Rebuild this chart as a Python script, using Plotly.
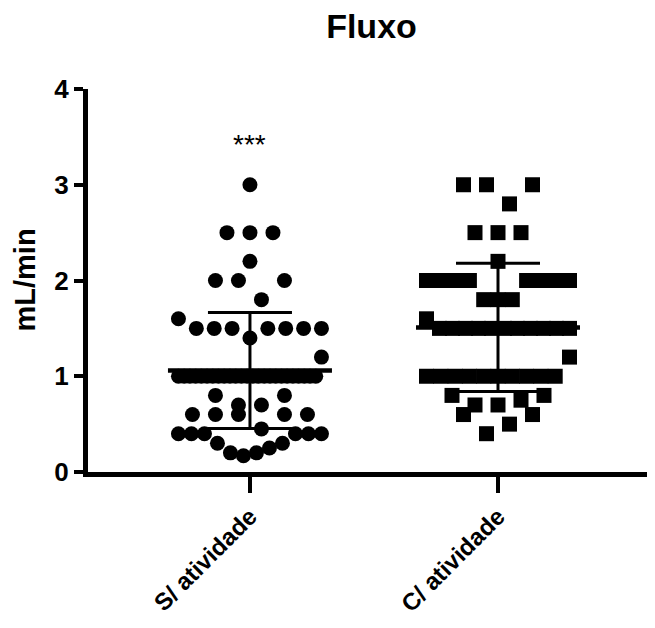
import plotly.graph_objects as go

categories = ["S/ atividade", "C/ atividade"]

s_atividade = [
    0.17, 0.2, 0.2, 0.25, 0.3, 0.3,
    0.4, 0.4, 0.4, 0.4, 0.4, 0.4,
    0.6, 0.45, 0.6, 0.6, 0.6, 0.6,
    0.7, 0.7, 0.8, 0.8,
    1.0, 1.0, 1.0, 1.0, 1.0, 1.0, 1.0, 1.0, 1.0, 1.0,
    1.0, 1.0, 1.0, 1.0, 1.0, 1.0, 1.0, 1.0, 1.0, 1.0,
    1.0, 1.0, 1.0, 1.0, 1.0,
    1.2,
    1.4, 1.5, 1.5, 1.5, 1.5, 1.5, 1.5, 1.6, 1.5,
    2.0, 1.8, 2.0, 2.0,
    2.2,
    2.5, 2.5, 2.5,
    3.0,
]

c_atividade = [
    0.4, 0.5, 0.6, 0.6,
    0.7, 0.7, 0.75, 0.8, 0.8,
    1.0, 1.0, 1.0, 1.0, 1.0, 1.0, 1.0, 1.0, 1.0, 1.0,
    1.2,
    1.5, 1.5, 1.5, 1.5, 1.5, 1.5, 1.5, 1.5, 1.5, 1.5, 1.6, 1.5,
    1.8, 1.8, 1.8,
    2.0, 2.0, 2.0, 2.0, 2.0, 2.0, 2.0, 2.0,
    2.2,
    2.5, 2.5, 2.5,
    3.0, 2.8, 3.0, 3.0,
]

group_means = [1.06, 1.51]
group_sds = [0.605, 0.67]

y_ticks = [0, 1, 2, 3, 4]
chart_title = "Fluxo"
y_title = "mL/min"
sig_text = "***"
sig_y = 3.42

# ---------------- layout constants ----------------
# the page adds an 8 px body margin, so the figure is 8 px smaller than the window
FONT = "Liberation Sans, Arial, Helvetica, sans-serif"
W, H = 647, 620
M_L, M_R, M_T, M_B = 80, 0, 81, 156
X_RANGE = [-0.653, 1.633]
PX_PER_X = (W - M_L - M_R) / (X_RANGE[1] - X_RANGE[0])

BIN_H = 0.245                 # values closer than this share a row
SLOT_MAX = 23 / PX_PER_X      # widest spacing between neighbours in a row
HALF_SPAN = 71.5 / PX_PER_X   # widest half-width of a row
MEAN_HALF = 82 / PX_PER_X
CAP_HALF = 42 / PX_PER_X


def swarm_offsets(vals):
    """Prism-like scatter-dot layout: bin by value, spread each bin symmetrically,
    filling slots centre-out in observation order."""
    order = sorted(range(len(vals)), key=lambda i: (vals[i], i))
    bins = []
    for i in order:
        if bins and vals[i] - vals[bins[-1][0]] < BIN_H - 1e-9:
            bins[-1].append(i)
        else:
            bins.append([i])
    offs = [0.0] * len(vals)
    for b in bins:
        n = len(b)
        if n == 1:
            continue
        b = sorted(b)
        sp = min(SLOT_MAX, 2 * HALF_SPAN / (n - 1))
        slots = [(k - (n - 1) / 2) * sp for k in range(n)]
        slots.sort(key=lambda s: (round(abs(s), 9), s))
        for i, s in zip(b, slots):
            offs[i] = s
    return offs


fig = go.Figure()

groups = [s_atividade, c_atividade]
symbols = ["circle", "square"]
for gi, (vals, sym) in enumerate(zip(groups, symbols)):
    offs = swarm_offsets(vals)
    fig.add_trace(go.Scatter(
        x=[gi + o for o in offs], y=vals, mode="markers",
        marker=dict(symbol=sym, size=15, color="black", line=dict(width=0)),
        showlegend=False, hoverinfo="y", cliponaxis=False,
    ))

for gi, (m, sd) in enumerate(zip(group_means, group_sds)):
    fig.add_trace(go.Scatter(x=[gi, gi], y=[m - sd, m + sd], mode="lines",
                             line=dict(color="black", width=3), showlegend=False,
                             hoverinfo="skip"))
    for yv in (m - sd, m + sd):
        fig.add_trace(go.Scatter(x=[gi - CAP_HALF, gi + CAP_HALF], y=[yv, yv], mode="lines",
                                 line=dict(color="black", width=3), showlegend=False,
                                 hoverinfo="skip"))
    fig.add_trace(go.Scatter(x=[gi - MEAN_HALF, gi + MEAN_HALF], y=[m, m], mode="lines",
                             line=dict(color="black", width=4.5), showlegend=False,
                             hoverinfo="skip"))

fig.add_annotation(x=0, y=sig_y, xref="x", yref="y", text=sig_text, showarrow=False,
                   font=dict(family=FONT, size=28, color="black"),
                   xanchor="center", yanchor="middle")

fig.add_annotation(x=-(M_L - 16) / (W - M_L - M_R), y=0.5, xref="paper", yref="paper",
                   text=y_title, textangle=-90, showarrow=False,
                   font=dict(family=FONT, size=29, color="black", weight="bold"),
                   xanchor="center", yanchor="middle")

fig.update_layout(
    width=W, height=H,
    margin=dict(l=M_L, r=M_R, t=M_T, b=M_B, pad=0, autoexpand=False),
    paper_bgcolor="white", plot_bgcolor="white",
    title=dict(text=chart_title, x=0.5, xref="paper", xanchor="center",
               y=1 - 18 / H, yref="container", yanchor="middle",
               font=dict(family=FONT, size=34, color="black", weight="bold")),
    xaxis=dict(range=X_RANGE, tickvals=[0, 1], ticktext=categories, tickangle=-45,
               showline=True, linewidth=5, linecolor="black",
               ticks="outside", ticklen=16, tickwidth=4, tickcolor="black",
               showgrid=False, zeroline=False, automargin=False,
               tickfont=dict(family=FONT, size=24, color="black", weight="bold")),
    yaxis=dict(range=[0, 4], tickvals=y_ticks,
               showline=True, linewidth=5, linecolor="black",
               ticks="outside", ticklen=9, tickwidth=4, tickcolor="black",
               showgrid=False, zeroline=False, automargin=False,
               tickfont=dict(family=FONT, size=26, color="black", weight="bold")),
)

fig.write_html("out.html")
